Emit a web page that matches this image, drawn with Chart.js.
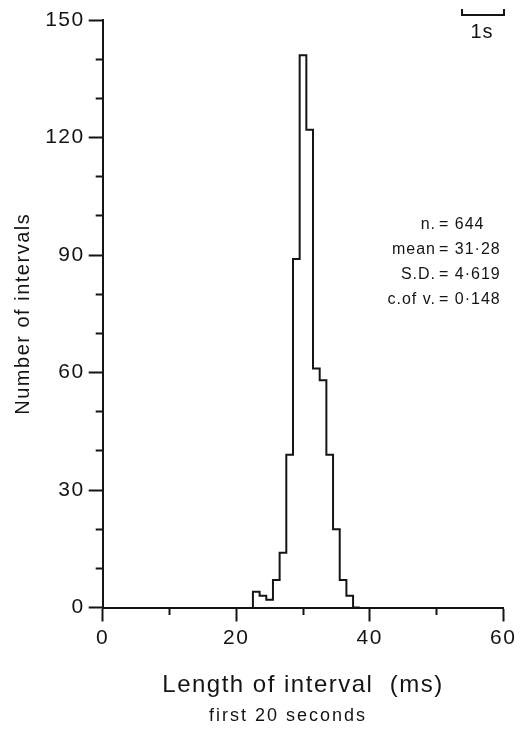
<!DOCTYPE html>
<html>
<head>
<meta charset="utf-8">
<script src="https://cdn.jsdelivr.net/npm/chart.js@4"></script>
<style>
  html, body { margin: 0; padding: 0; background: #ffffff; }
  #wrap { width: 526px; height: 733px; }
</style>
</head>
<body>
<div id="wrap"><canvas id="c" width="526" height="733"></canvas></div>
<script>
// ---- data ----
const binCenters = [23, 24, 25, 26, 27, 28, 29, 30, 31, 32, 33, 34, 35, 36, 37, 38]; // ms (1 ms bins)
const counts     = [1, 4, 3, 2, 7, 14, 39, 89, 141, 122, 61, 58, 39, 20, 7, 3];
const binWidth = 1;
const xTickLabels = [0, 20, 40, 60];
const yTickLabels = [0, 30, 60, 90, 120, 150];
const statLabels = ['n.', 'mean', 'S.D.', 'c.of v.'];
const statValues = ['= 644', '= 31·28', '= 4·619', '= 0·148'];
const xTitle = 'Length of interval  (ms)';
const yTitle = 'Number of intervals';
const subTitle = 'first 20 seconds';
const scaleBarLabel = '1s';

// step outline built from the bins
const stepPoints = [{x: binCenters[0] - binWidth / 2, y: 0}];
binCenters.forEach((c, i) => stepPoints.push({x: c - binWidth / 2, y: counts[i]}));
stepPoints.push({x: binCenters[binCenters.length - 1] + binWidth / 2, y: 0});

const INK = '#141414';
const FONT = "'Liberation Sans', Arial, Helvetica, sans-serif";

const spacingPlugin = {
  id: 'spacing',
  beforeDraw(chart) { chart.ctx.letterSpacing = '1.5px'; }
};

const textPlugin = {
  id: 'extraText',
  afterDraw(chart) {
    const ctx = chart.ctx;
    ctx.save();
    ctx.fillStyle = INK;
    // subtitle
    ctx.letterSpacing = '2px';
    ctx.font = '18px ' + FONT;
    ctx.textAlign = 'center';
    ctx.textBaseline = 'middle';
    ctx.fillText(subTitle, 288, 716);
    // stats block
    ctx.letterSpacing = '1px';
    ctx.font = '16px ' + FONT;
    statLabels.forEach((lab, i) => {
      const y = 225 + i * 24.7;
      ctx.textAlign = 'right';
      ctx.fillText(lab, 436, y);
      ctx.textAlign = 'left';
      ctx.fillText(statValues[i], 439, y);
    });
    // 1 s scale bar
    ctx.strokeStyle = INK;
    ctx.lineWidth = 2;
    ctx.beginPath();
    ctx.moveTo(462, 9);
    ctx.lineTo(462, 15);
    ctx.lineTo(504, 15);
    ctx.lineTo(504, 9);
    ctx.stroke();
    ctx.letterSpacing = '1px';
    ctx.font = '20px ' + FONT;
    ctx.textAlign = 'center';
    ctx.fillText(scaleBarLabel, 482, 32);
    ctx.restore();
  }
};

const tickGrid = (isMinor, minorDash) => ({
  display: true,
  drawOnChartArea: false,
  drawTicks: true,
  tickLength: 14,
  tickWidth: 2,
  tickColor: INK,
  tickBorderDash: (ctx) => isMinor(ctx.tick && ctx.tick.value) ? minorDash : [],
});

new Chart(document.getElementById('c'), {
  type: 'line',
  data: {
    datasets: [{
      data: stepPoints,
      stepped: 'after',
      borderColor: INK,
      borderWidth: 2,
      pointRadius: 0,
      fill: false,
      tension: 0
    }]
  },
  options: {
    responsive: false,
    animation: false,
    layout: { padding: { left: 0, right: 22.7, top: 20, bottom: 0 } },
    plugins: { legend: { display: false }, tooltip: { enabled: false } },
    scales: {
      x: {
        type: 'linear',
        min: xTickLabels[0],
        max: xTickLabels[xTickLabels.length - 1],
        border: { display: true, color: INK, width: 2 },
        grid: tickGrid(v => !xTickLabels.includes(v), [6, 30]),
        ticks: {
          stepSize: 10,
          autoSkip: false,
          maxRotation: 0,
          color: INK,
          padding: 4,
          font: { family: FONT, size: 21 },
          callback: v => xTickLabels.includes(v) ? String(v) : ''
        },
        title: {
          display: true,
          text: xTitle,
          color: INK,
          font: { family: FONT, size: 24 },
          padding: { top: 0, bottom: 33 }
        },
        afterFit(scale) { scale.height = 125.5; }
      },
      y: {
        type: 'linear',
        min: yTickLabels[0],
        max: yTickLabels[yTickLabels.length - 1],
        border: { display: true, color: INK, width: 2 },
        grid: tickGrid(v => !yTickLabels.includes(v), [0, 7, 7, 30]),
        ticks: {
          stepSize: 10,
          autoSkip: false,
          color: INK,
          padding: 4,
          font: { family: FONT, size: 21 },
          callback: v => yTickLabels.includes(v) ? String(v) : ''
        },
        title: {
          display: true,
          text: yTitle,
          color: INK,
          font: { family: FONT, size: 20 },
          padding: { top: 11, bottom: 0 }
        },
        afterFit(scale) { scale.width = 102.7; }
      }
    }
  },
  plugins: [spacingPlugin, textPlugin]
});
</script>
</body>
</html>
